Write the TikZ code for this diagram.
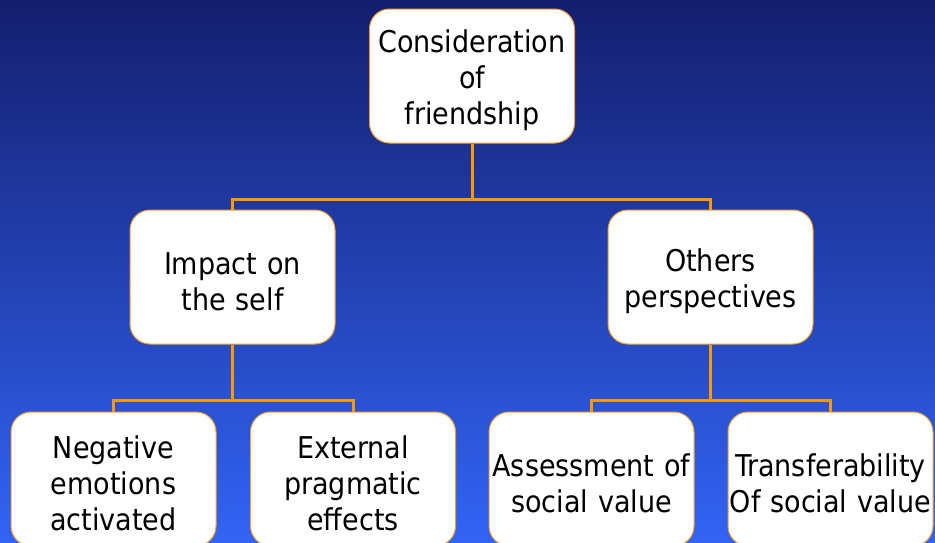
\documentclass[tikz,border=0pt]{standalone}
\usepackage{fontspec}
\setmainfont{DejaVu Sans Condensed}
\begin{document}
\begin{tikzpicture}[x=1pt,y=-1pt,
  box/.style={draw=boxedge, line width=1pt, fill=white, rounded corners=20pt,
    minimum width=205pt, minimum height=134pt, text width=205pt, align=center,
    inner sep=0pt, font=\fontsize{30}{36}\selectfont,
    execute at begin node={\rule{0pt}{31pt}}},
  conn/.style={draw=connorange, line width=3pt}]
\definecolor{bgtop}{HTML}{141E6E}
\definecolor{bgbot}{HTML}{3264F5}
\definecolor{boxedge}{HTML}{F0A030}
\definecolor{connorange}{HTML}{FF9900}
\useasboundingbox (0,0) rectangle (935,542);
\clip (0,0) rectangle (935,542);
\shade[top color=bgtop, bottom color=bgbot] (0,0) rectangle (935,542);
\node[box] (top) at (472,76) {Consideration\\of\\friendship};
\node[box] (impact) at (232.5,277) {Impact on\\the self};
\node[box] (others) at (710.5,277) {Others\\perspectives};
\node[box, minimum width=203pt] (neg) at (113.5,479) {Negative\\emotions\\activated};
\node[box] (ext) at (353,479) {External\\pragmatic\\effects};
\node[box] (ass) at (591.5,479) {Assessment of\\social value};
\node[box] (tra) at (830.5,479) {Transferability\\Of social value};
\coordinate (bar1) at (472,199);
\coordinate (bar2) at (232.5,400);
\coordinate (bar3) at (710.5,400);
\draw[conn] (top.south) -- (bar1);
\draw[conn] (impact.north) |- (bar1) -| (others.north);
\draw[conn] (impact.south) -- (bar2);
\draw[conn] (neg.north) |- (bar2) -| (ext.north);
\draw[conn] (others.south) -- (bar3);
\draw[conn] (ass.north) |- (bar3) -| (tra.north);
\end{tikzpicture}
\end{document}
